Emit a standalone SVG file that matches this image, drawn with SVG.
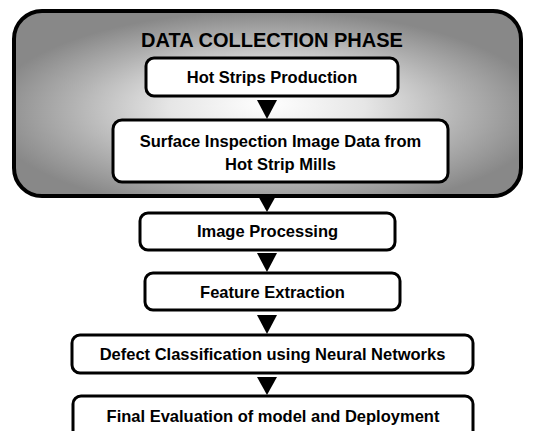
<svg xmlns="http://www.w3.org/2000/svg" width="537" height="431" viewBox="0 0 537 431">
  <style>
    .box { fill: #ffffff; stroke: #000000; stroke-width: 3; }
    .lbl { font-family: "Liberation Sans", Arial, sans-serif; font-weight: bold; font-size: 16.5px; fill: #000000; text-anchor: middle; }
    .title { font-family: "Liberation Sans", Arial, sans-serif; font-weight: bold; font-size: 20px; fill: #000000; text-anchor: middle; }
    .arrow { fill: #000000; }
  </style>
  <defs>
    <radialGradient id="phaseGrad" cx="0.5" cy="0.55" r="0.55" fx="0.5" fy="0.5">
      <stop offset="0" stop-color="#ffffff"/>
      <stop offset="0.35" stop-color="#e6e6e6"/>
      <stop offset="0.7" stop-color="#b2b2b2"/>
      <stop offset="1" stop-color="#888888"/>
    </radialGradient>
  </defs>
  <rect width="537" height="431" fill="#ffffff"/>

  <g id="phase">
    <rect x="14" y="11" width="507" height="185" rx="28" ry="28" fill="url(#phaseGrad)" stroke="#000000" stroke-width="4"/>
    <text class="title" x="272" y="47">DATA COLLECTION PHASE</text>
  </g>

  <g id="n1">
    <rect class="box" x="146" y="58" width="252" height="38" rx="8"/>
    <text class="lbl" x="272" y="83">Hot Strips Production</text>
  </g>
  <g id="n2">
    <rect class="box" x="113" y="120" width="335" height="62" rx="9"/>
    <text class="lbl" x="280.5" y="147">Surface Inspection Image Data from</text>
    <text class="lbl" x="280.5" y="170">Hot Strip Mills</text>
  </g>
  <g id="n3">
    <rect class="box" x="140" y="213" width="255" height="37" rx="8"/>
    <text class="lbl" x="267.5" y="237">Image Processing</text>
  </g>
  <g id="n4">
    <rect class="box" x="145" y="273" width="255" height="37" rx="8"/>
    <text class="lbl" x="272.5" y="298">Feature Extraction</text>
  </g>
  <g id="n5">
    <rect class="box" x="72" y="335" width="401" height="38" rx="8"/>
    <text class="lbl" x="272.5" y="360">Defect Classification using Neural Networks</text>
  </g>
  <g id="n6">
    <rect class="box" x="73" y="396" width="400" height="50" rx="8"/>
    <text class="lbl" x="273" y="422">Final Evaluation of model and Deployment</text>
  </g>

  <g id="connectors">
    <polygon class="arrow" points="257,100 277,100 267,119"/>
    <polygon class="arrow" points="257,194 277,194 267,212"/>
    <polygon class="arrow" points="257,253 277,253 267,272"/>
    <polygon class="arrow" points="257,315 277,315 267,334"/>
    <polygon class="arrow" points="257,377 277,377 267,395"/>
  </g>
</svg>
